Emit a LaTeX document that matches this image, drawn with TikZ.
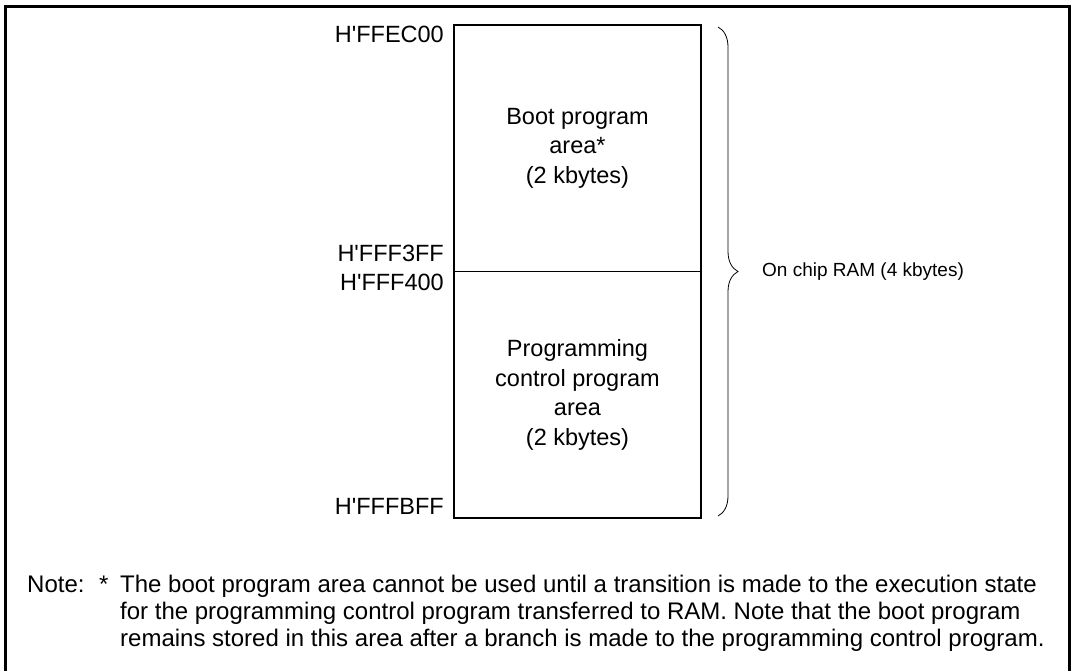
\documentclass[tikz,border=0pt]{standalone}
\usepackage{fontspec}
\setmainfont{Liberation Sans}
\usetikzlibrary{positioning, decorations.pathreplacing}

\newcommand{\addrq}{H\textquotesingle}

\tikzset{
  area/.style={draw, line width=1.2pt, minimum width=247pt, minimum height=246.5pt,
    inner sep=0pt, outer sep=0pt, align=center, font=\fontsize{23.5}{29.5}\selectfont},
  addr/.style={inner sep=0pt, font=\fontsize{23.5}{27}\selectfont},
  notetext/.style={inner sep=0pt, anchor=base west, font=\fontsize{24}{27}\selectfont}
}

\begin{document}
\begin{tikzpicture}[x=1pt,y=-1pt]
  \useasboundingbox (0,0) rectangle (1075,670);
  % outer frame (open at the bottom)
  \draw[line width=3pt] (5,690) -- (5,6) -- (1069,6) -- (1069,690);
  % memory areas
  \node[area, anchor=north west] (boot) at (454,25) {Boot program\\area*\\(2 kbytes)};
  \node[area, below=0pt of boot] (prog) {Programming\\control program\\area\\(2 kbytes)};
  % addresses
  \node[addr, below left=1pt and 10pt of boot.north west] (a1) {\addrq FFEC00};
  \node[addr, above left=10pt and 10pt of boot.south west] (a2) {\addrq FFF3FF};
  \node[addr, below left=2pt and 10pt of prog.north west] (a3) {\addrq FFF400};
  \node[addr, above left=3pt and 10pt of prog.south west] (a4) {\addrq FFFBFF};
  % brace
  \draw[line width=0.8pt, decorate, decoration={brace, amplitude=20pt}]
    ([xshift=17pt, yshift=-2pt]boot.north east) -- ([xshift=17pt, yshift=2pt]prog.south east);
  \node[inner sep=0pt, right=61pt of boot.south east, font=\fontsize{19}{23}\selectfont] (ram) {On chip RAM (4 kbytes)};
  % note
  \node[notetext] (note) at (27,592) {\begin{tabular}[t]{@{}p{72pt}@{}p{21pt}@{}l@{}}
    Note: & * & The boot program area cannot be used until a transition is made to the execution state\\
          &   & for the programming control program transferred to RAM. Note that the boot program\\
          &   & remains stored in this area after a branch is made to the programming control program.
  \end{tabular}};
\end{tikzpicture}
\end{document}
